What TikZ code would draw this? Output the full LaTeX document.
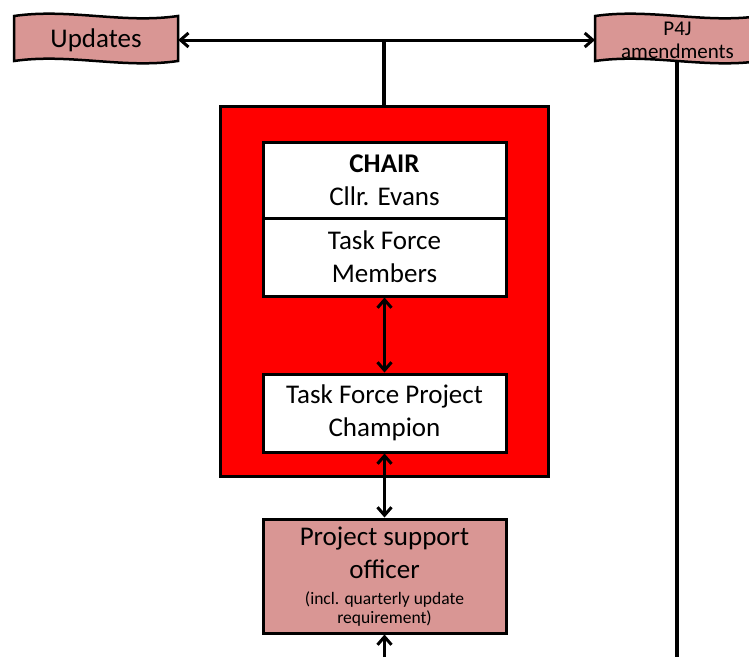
\documentclass[tikz,border=0pt]{standalone}
\usepackage{fontspec}
\setmainfont{Carlito}
\usetikzlibrary{arrows.meta}
\definecolor{pinkfill}{HTML}{D99694}
\definecolor{redfill}{HTML}{FF0000}
\tikzset{
  x=1pt, y=-1pt,
  bigtxt/.style={font=\fontsize{27}{33}\selectfont, align=center, inner sep=0pt},
  smalltxt/.style={font=\fontsize{17.5}{19}\selectfont, align=center, inner sep=0pt},
  wbox/.style={bigtxt, draw=black, line width=3pt, fill=white, minimum width=243pt},
  pinkbox/.style={draw=black, line width=3pt, fill=pinkfill, minimum width=243pt, inner sep=0pt},
  redbox/.style={draw=black, line width=3pt, fill=redfill, minimum width=328pt, minimum height=370pt, inner sep=0pt},
  wave/.style={draw=black, line width=2.5pt, fill=pinkfill},
  conn/.style={line width=3pt, {Straight Barb[length=8pt,width=14pt]}-{Straight Barb[length=8pt,width=14pt]}},
  oneway/.style={line width=3pt, -{Straight Barb[length=8pt,width=14pt]}},
  stem/.style={line width=4.5pt},
  vline/.style={line width=3.5pt},
}
\begin{document}
\begin{tikzpicture}
\useasboundingbox (0,0) rectangle (749,657);
% wavy banners
\draw[wave] (14,16) .. controls (69,8) and (123,24) .. (178,16)
  -- (178,61) .. controls (123,69) and (69,53) .. (14,61) -- cycle;
\draw[wave] (595,16) .. controls (650,8) and (705,24) .. (760,16)
  -- (760,61) .. controls (705,69) and (650,53) .. (595,61) -- cycle;
\coordinate (p4j) at (595,40);
\coordinate (p4jbot) at (677,62);
\coordinate (bottomR) at (677,657);
\draw[vline] (p4jbot) -- (bottomR);
\node[bigtxt, minimum width=164pt, minimum height=44pt] (upd) at (96,40) {Updates};
\node[font=\fontsize{21}{23}\selectfont, align=center, inner sep=0pt] (p4jtxt) at (677.5,40.5) {P4J\\amendments};
% red box
\node[redbox] (red) at (384,291.5) {};
\node[wbox, minimum height=76pt] (chair) at (384.5,180) {\textbf{CHAIR}\\Cllr. Evans};
\node[wbox, minimum height=78pt] (members) at (384.5,257) {Task Force\\Members};
\node[wbox, minimum height=78pt] (champ) at (384.5,413) {Task Force Project\\Champion};
\node[pinkbox, minimum height=114pt] (pso) at (384.5,576) {};
\node[bigtxt] (psot) at (384.5,553) {Project support\\officer};
\node[smalltxt] (psos) at (384.5,609) {(incl. quarterly update\\requirement)};
\coordinate (bottomC) at (384.5,657);
% connectors
\draw[conn] (upd.east) -- (p4j);
\draw[stem] (red.north) -- (red.north |- upd.east);
\draw[conn] (members.south) -- (champ.north);
\draw[conn] (champ.south) -- (pso.north);
\draw[oneway] (bottomC) -- (pso.south);
\end{tikzpicture}
\end{document}
